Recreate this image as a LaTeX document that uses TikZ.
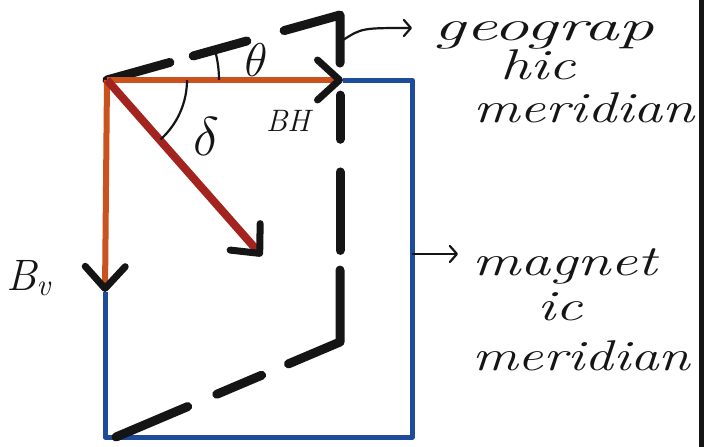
\documentclass[tikz,border=0pt]{standalone}
\usetikzlibrary{arrows.meta,calc}
\definecolor{bhred}{HTML}{C9521F}
\definecolor{diagred}{HTML}{A3241F}
\definecolor{mblue}{HTML}{1F4C9A}
\definecolor{ink}{HTML}{151515}
\newcommand{\handw}[2][1.3]{\scalebox{#1}[1]{#2}}
\begin{document}
\begin{tikzpicture}[x=1pt,y=-1pt,
  hw/.style={font=\fontsize{43}{45}\selectfont\itshape, anchor=base west, inner sep=0pt, text=ink},
  lbl/.style={font=\fontsize{34}{36}\selectfont\itshape, inner sep=0pt, text=ink},
  geo/.style={draw=ink, line width=9pt, line cap=round, line join=round},
  vec/.style={line width=6pt, -{Straight Barb[length=22pt,width=40pt,line width=7pt,color=ink,round]}},
  pointer/.style={draw=ink, line width=2.2pt, -{Straight Barb[length=7pt,width=16pt,line width=2.2pt,round]}},
  anglemark/.style={draw=ink, line width=2.2pt}
]
\useasboundingbox (0,0) rectangle (704,447);
\fill[white] (0,0) rectangle (704,447);
\fill[ink] (699,0) rectangle (704,447);

% key points
\coordinate (O) at (107,80);
\coordinate (H) at (343,80);
\coordinate (V) at (105,292);
\coordinate (D) at (262,256);
\coordinate (G1) at (340,15);
\coordinate (G2) at (340,342);
\coordinate (G3) at (116,437);
\coordinate (TR) at (412,80);
\coordinate (BR) at (412,437);
\coordinate (BL) at (105,437);

% magnetic meridian (blue)
\draw[mblue, line width=5pt, line join=round] (H) -- (TR) -- (BR) -- (BL) -- (V);

% geographic meridian (dashed black)
\draw[geo] (O) -- ($(O)!0.27!(G1)$);
\draw[geo] ($(O)!0.37!(G1)$) -- ($(O)!0.60!(G1)$);
\draw[geo] ($(O)!0.76!(G1)$) -- (G1) -- ($(G1)!0.147!(G2)$);
\draw[geo] ($(G1)!0.245!(G2)$) -- ($(G1)!0.38!(G2)$);
\draw[geo] ($(G1)!0.48!(G2)$) -- ($(G1)!0.72!(G2)$);
\draw[geo] ($(G1)!0.78!(G2)$) -- (G2) -- ($(G2)!0.23!(G3)$);
\draw[geo] ($(G2)!0.35!(G3)$) -- ($(G2)!0.55!(G3)$);
\draw[geo] ($(G2)!0.68!(G3)$) -- (G3);

% vectors
\draw[vec, bhred] (O) -- (H);
\draw[vec, bhred] (O) -- (V);
\draw[vec, diagred, line width=8pt] (O) -- (D);

% angle marks
\draw[anglemark] ($(O)+(80,0)$) arc[start angle=0, end angle=48, radius=80];
\draw[anglemark] ($(O)+(112,0)$) arc[start angle=0, end angle=-15, radius=112];

% labels
\node[lbl] (theta) at (256,60) {\scalebox{1.9}{$\theta$}};
\node[lbl] (delta) at (206,136) {\scalebox{2.2}{$\delta$}};
\node[lbl, font=\fontsize{31}{33}\selectfont\itshape] (bh) at (288,121) {BH};
\node[lbl, anchor=base west, font=\fontsize{44}{46}\selectfont\itshape] (bv) at (6,290) {B\textsubscript{v}};

% geographic meridian label
\coordinate (gp0) at (343,40);
\coordinate (gp1) at (412,28);
\draw[pointer] (gp0) .. controls (362,28) .. (gp1);
\node[hw] (geo1) at (433,40) {\handw[1.65]{geograp}};
\node[hw] (geo2) at (500,79) {\handw[1.4]{hic}};
\node[hw] (geo3) at (473,122) {\handw[1.35]{meridian}};

% magnetic meridian label
\coordinate (mp0) at (412,254);
\coordinate (mp1) at (458,254);
\draw[pointer] (mp0) -- (mp1);
\node[hw] (mag1) at (472,275) {\handw[1.4]{magnet}};
\node[hw] (mag2) at (537,320) {\handw[1.4]{ic}};
\node[hw] (mag3) at (472,370) {\handw[1.33]{meridian}};
\end{tikzpicture}
\end{document}
